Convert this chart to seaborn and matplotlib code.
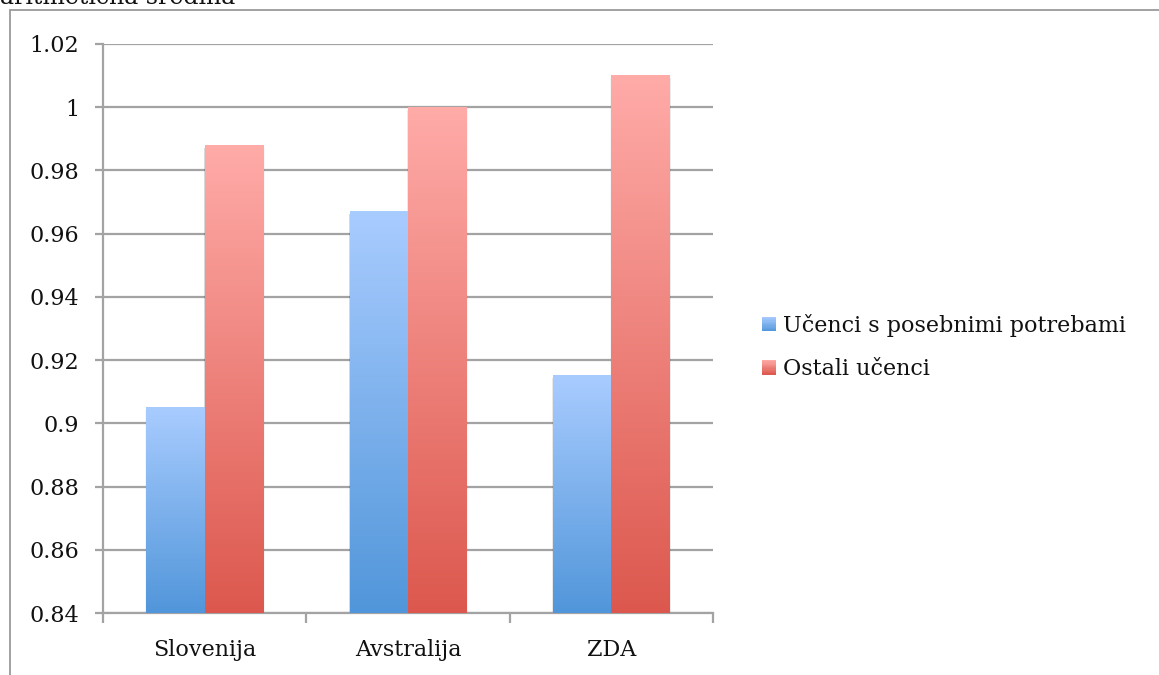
import numpy as np
import pandas as pd
import matplotlib
matplotlib.use("Agg")
import matplotlib.pyplot as plt
import matplotlib.patches as mpatches
from matplotlib.colors import LinearSegmentedColormap
from matplotlib.legend_handler import HandlerBase
import seaborn as sns

# Data
countries = ["Slovenija", "Avstralija", "ZDA"]
groups = ["Učenci s posebnimi potrebami", "Ostali učenci"]
special_needs = [0.905, 0.967, 0.915]
other_pupils = [0.988, 1.000, 1.010]
y_ticks = [0.84, 0.86, 0.88, 0.90, 0.92, 0.94, 0.96, 0.98, 1.00, 1.02]
y_tick_labels = ["0.84", "0.86", "0.88", "0.9", "0.92", "0.94", "0.96", "0.98", "1", "1.02"]
title = "aritmetična sredina"

df = pd.DataFrame({
    "country": countries * 2,
    "group": [groups[0]] * 3 + [groups[1]] * 3,
    "value": special_needs + other_pupils,
})

# light (top) -> dark (bottom) gradient per series
gradients = {
    groups[0]: ("#A9CCFF", "#5196DA"),
    groups[1]: ("#FFABA8", "#DC584E"),
}

sns.set_theme(style="white")
plt.rcParams["font.family"] = ["DejaVu Serif"]
FS = 16

Y_MIN, Y_MAX = 0.84, 1.02

fig = plt.figure(figsize=(11.59, 6.75), dpi=100)
W, H = 1159, 675
ax = fig.add_axes([103 / W, (H - 613) / H, 610 / W, 569 / H])

sns.barplot(data=df, x="country", y="value", hue="group", order=countries,
            hue_order=groups, width=0.575, gap=0, ax=ax, legend=False,
            palette=[gradients[g][1] for g in groups], zorder=3)

ax.set_ylim(Y_MIN, Y_MAX)
ax.set_xlim(-0.5, 2.5)

# gradient fill + soft shadow for each bar (visible part starts at the axis floor)
n = len(countries)
grad = np.linspace(0, 1, 256).reshape(-1, 1)
for i, patch in enumerate(ax.patches):
    g = groups[i // n]
    x0, w = patch.get_x(), patch.get_width()
    y_top = patch.get_y() + patch.get_height()
    top, bottom = gradients[g]
    cmap = LinearSegmentedColormap.from_list(g, [bottom, top])
    for dx, alpha in [(0.010, 0.035), (0.006, 0.05), (0.003, 0.07)]:
        ax.add_patch(mpatches.Rectangle((x0 - dx * 0.5, Y_MIN), w + dx * 1.2,
                                        y_top - Y_MIN - 0.0008,
                                        facecolor="#000000", alpha=alpha,
                                        edgecolor="none", zorder=2))
    ax.imshow(grad, cmap=cmap, aspect="auto", origin="lower",
              extent=(x0, x0 + w, Y_MIN, y_top), zorder=3.5)
    patch.set_visible(False)
ax.set_xlim(-0.5, 2.5)
ax.set_ylim(Y_MIN, Y_MAX)

# grid and axes
grid_col = "#A3A3A3"
ax.yaxis.grid(True, color=grid_col, linewidth=1.6, zorder=1)
ax.set_axisbelow(True)
for s in ["top", "right"]:
    ax.spines[s].set_visible(False)
for s in ["left", "bottom"]:
    ax.spines[s].set_color(grid_col)
    ax.spines[s].set_linewidth(1.6)

ax.set_yticks(y_ticks)
ax.set_yticklabels(y_tick_labels)
ax.tick_params(axis="y", which="major", direction="out", length=6, width=1.6,
               color=grid_col, left=True, labelsize=FS, pad=11, labelcolor="#111111")

# category labels on major ticks, boundary marks on minor ticks
ax.set_xticks(range(n))
ax.set_xticklabels(countries)
ax.set_xticks([-0.5, 0.5, 1.5, 2.5], minor=True)
ax.tick_params(axis="x", which="major", length=0, labelsize=FS, pad=19,
               labelcolor="#111111")
ax.tick_params(axis="x", which="minor", direction="out", length=7, width=1.6,
               color=grid_col, bottom=True)
ax.set_xlabel("")
ax.set_ylabel("")


class GradientHandler(HandlerBase):
    def __init__(self, top, bottom):
        super().__init__()
        self.cmap = LinearSegmentedColormap.from_list("h", [bottom, top])

    def create_artists(self, legend, orig_handle, xdescent, ydescent, width,
                       height, fontsize, trans):
        arts = []
        steps = 12
        for j in range(steps):
            r = mpatches.Rectangle((-xdescent, -ydescent + height * j / steps),
                                   width, height / steps + 0.05,
                                   facecolor=self.cmap((j + 0.5) / steps),
                                   edgecolor="none", transform=trans)
            arts.append(r)
        return arts


handles = [mpatches.Rectangle((0, 0), 1, 1) for _ in groups]
handler_map = {h: GradientHandler(*gradients[g]) for h, g in zip(handles, groups)}
fig.legend(handles, groups, handler_map=handler_map, loc="center left",
           bbox_to_anchor=(762 / W, 1 - 347 / H), frameon=False, fontsize=FS,
           handlelength=0.63, handleheight=0.63, handletextpad=0.3,
           labelspacing=0.95, borderpad=0, borderaxespad=0, labelcolor="#111111")

# outer chart frame (extends past the right and bottom edges)
frame = mpatches.Rectangle((10 / W, -0.1), 1.2, 1 - 10 / H + 0.1,
                           transform=fig.transFigure, facecolor="none",
                           edgecolor="#9A9A9A", linewidth=1.3, zorder=0)
fig.patches.append(frame)

fig.text(0.0, 1 - 4 / H, title, ha="left", va="baseline", fontsize=FS + 1,
         color="#111111")

fig.savefig("out.png", dpi=100)
